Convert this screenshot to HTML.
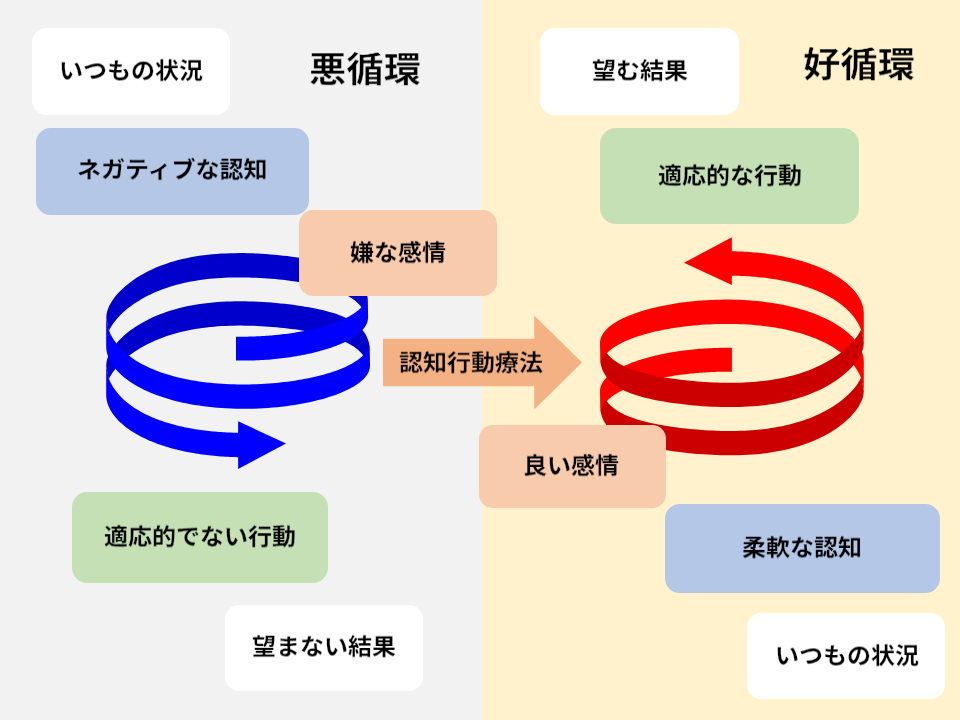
<!DOCTYPE html>
<html lang="ja">
<head>
<meta charset="utf-8">
<title>悪循環と好循環</title>
<style>
html,body{margin:0;padding:0;}
body{width:960px;height:720px;overflow:hidden;position:relative;background:#F2F2F2;
 font-family:"Liberation Sans","Noto Sans CJK JP",sans-serif;color:#000;}
.bgR{position:absolute;left:482px;top:0;width:478px;height:720px;background:#FFF2CC;}
.box{position:absolute;display:flex;align-items:center;justify-content:center;
 font-size:24px;font-weight:700;line-height:1;white-space:nowrap;}
.box span{display:block;position:relative;top:-1px;}
.box span,.title,.arrowtxt span{will-change:transform;transform:scaleY(0.943);transform-origin:50% 50%;}
.arrowtxt span{-webkit-text-stroke:0.3px #F4B183;}
.title.l{-webkit-text-stroke:0.45px #F2F2F2;}
.title.r{-webkit-text-stroke:0.45px #FFF2CC;}
.title{position:absolute;font-size:37.33px;font-weight:700;line-height:1;white-space:nowrap;}
svg{position:absolute;left:0;top:0;}
.arrowtxt{position:absolute;left:383px;top:339px;width:176px;height:47px;display:flex;align-items:center;
 justify-content:center;font-size:24px;font-weight:700;line-height:1;white-space:nowrap;}
</style>
</head>
<body>
<div class="bgR"></div>
<div class="box" style="left:32px;top:28px;width:198px;height:87px;border-radius:14.5px;background:#FFFFFF"><span style="left:0px;top:-1px;-webkit-text-stroke:0.22px #FFFFFF">いつもの状況</span></div><div class="box" style="left:36px;top:128px;width:273px;height:87px;border-radius:14.5px;background:#B4C7E7"><span style="left:0px;top:-1.5px;-webkit-text-stroke:0.22px #B4C7E7">ネガティブな認知</span></div><div class="box" style="left:72px;top:492px;width:256px;height:91px;border-radius:15.17px;background:#C5E0B4"><span style="left:0px;top:-1px;-webkit-text-stroke:0.22px #C5E0B4">適応的でない行動</span></div><div class="box" style="left:225px;top:605px;width:198px;height:86px;border-radius:14.33px;background:#FFFFFF"><span style="left:0px;top:-1px;-webkit-text-stroke:0.22px #FFFFFF">望まない結果</span></div><div class="box" style="left:540px;top:28px;width:199px;height:87px;border-radius:14.5px;background:#FFFFFF"><span style="left:0px;top:-1px;-webkit-text-stroke:0.22px #FFFFFF">望む結果</span></div><div class="box" style="left:600px;top:128px;width:259px;height:96px;border-radius:16.0px;background:#C5E0B4"><span style="left:0px;top:-0.5px;-webkit-text-stroke:0.22px #C5E0B4">適応的な行動</span></div><div class="box" style="left:664.5px;top:504px;width:275.5px;height:89px;border-radius:14.83px;background:#B4C7E7"><span style="left:0px;top:-1px;-webkit-text-stroke:0.22px #B4C7E7">柔軟な認知</span></div><div class="box" style="left:747px;top:613px;width:198px;height:86px;border-radius:14.33px;background:#FFFFFF"><span style="left:0.5px;top:0px;-webkit-text-stroke:0.22px #FFFFFF">いつもの状況</span></div>
<div class="title l" style="left:309px;top:52.4px;">悪循環</div>
<div class="title r" style="left:803px;top:47.4px;">好循環</div>
<svg width="960" height="720" viewBox="0 0 960 720">
<path d="M106.30,317.76 L106.38,315.93 L106.61,314.06 L107.00,312.16 L107.54,310.23 L108.24,308.27 L109.09,306.29 L110.09,304.28 L111.25,302.26 L112.55,300.21 L114.00,298.16 L115.60,296.10 L117.34,294.04 L119.23,291.98 L121.25,289.93 L123.41,287.90 L125.71,285.88 L128.14,283.88 L130.70,281.92 L133.39,279.99 L136.20,278.10 L139.13,276.25 L142.18,274.46 L145.33,272.71 L148.60,271.03 L151.98,269.41 L155.45,267.86 L159.02,266.37 L162.69,264.96 L166.44,263.63 L170.28,262.37 L174.20,261.19 L178.19,260.10 L182.25,259.08 L186.38,258.15 L190.57,257.30 L194.81,256.53 L199.10,255.85 L203.44,255.25 L207.82,254.72 L212.24,254.27 L216.68,253.90 L221.15,253.61 L225.64,253.38 L230.14,253.22 L234.65,253.13 L239.16,253.09 L243.67,253.12 L248.17,253.21 L252.66,253.35 L257.13,253.54 L261.58,253.78 L266.00,254.06 L270.38,254.39 L274.72,254.76 L279.02,255.18 L283.27,255.63 L287.47,256.11 L291.61,256.64 L295.68,257.20 L299.68,257.79 L303.61,258.43 L307.45,259.09 L311.22,259.80 L314.90,260.54 L318.48,261.33 L321.97,262.15 L325.36,263.02 L328.64,263.94 L331.81,264.91 L334.88,265.92 L337.82,266.99 L340.65,268.12 L343.35,269.31 L345.93,270.56 L348.37,271.88 L350.69,273.27 L352.87,274.73 L354.91,276.26 L356.82,277.87 L358.58,279.56 L360.20,281.33 L361.67,283.18 L362.99,285.11 L364.16,287.13 L365.19,289.23 L366.06,291.40 L366.77,293.66 L367.34,296.00 L367.75,298.41 L362.54,308.72 L361.36,307.07 L360.06,305.48 L358.66,303.95 L357.15,302.48 L355.54,301.07 L353.82,299.72 L351.99,298.42 L350.07,297.18 L348.04,295.99 L345.91,294.86 L343.69,293.77 L341.38,292.73 L338.97,291.74 L336.47,290.79 L333.88,289.88 L331.20,289.01 L328.45,288.18 L325.61,287.39 L322.69,286.63 L319.70,285.91 L316.63,285.22 L313.49,284.55 L310.29,283.92 L307.02,283.32 L303.69,282.74 L300.30,282.19 L296.85,281.67 L293.35,281.17 L289.80,280.70 L286.20,280.26 L282.56,279.85 L278.88,279.46 L275.16,279.10 L271.41,278.78 L267.63,278.48 L263.82,278.22 L259.99,277.99 L256.13,277.79 L252.26,277.63 L248.38,277.51 L244.49,277.43 L240.59,277.40 L236.68,277.40 L232.78,277.46 L228.88,277.56 L224.99,277.71 L221.11,277.91 L217.25,278.16 L213.40,278.47 L209.57,278.84 L205.77,279.26 L201.99,279.74 L198.25,280.28 L194.54,280.88 L190.87,281.54 L187.24,282.27 L183.66,283.05 L180.12,283.90 L176.63,284.81 L173.20,285.78 L169.83,286.81 L166.51,287.90 L163.26,289.05 L160.07,290.26 L156.95,291.52 L153.90,292.83 L150.93,294.20 L148.03,295.62 L145.22,297.08 L142.48,298.58 L139.83,300.13 L137.26,301.71 L134.79,303.33 L132.40,304.98 L130.11,306.66 L127.91,308.37 L125.81,310.09 L123.81,311.84 L121.91,313.59 L120.12,315.36 L118.42,317.14 L116.84,318.92 L115.36,320.70 L113.98,322.49 L112.72,324.26 L111.57,326.03 L110.53,327.79 L109.60,329.53 L108.79,331.26Z" fill="#0000CC"/>
<path d="M106.20,365.96 L106.28,364.13 L106.51,362.26 L106.90,360.36 L107.45,358.43 L108.15,356.47 L109.01,354.49 L110.02,352.48 L111.18,350.46 L112.50,348.41 L113.96,346.36 L115.57,344.30 L117.33,342.24 L119.22,340.18 L121.27,338.13 L123.44,336.10 L125.76,334.08 L128.21,332.08 L130.79,330.12 L133.50,328.19 L136.33,326.30 L139.28,324.45 L142.35,322.66 L145.53,320.91 L148.83,319.23 L152.23,317.61 L155.73,316.06 L159.33,314.57 L163.02,313.16 L166.80,311.83 L170.67,310.57 L174.62,309.39 L178.64,308.30 L182.73,307.28 L186.89,306.35 L191.11,305.50 L195.39,304.73 L199.71,304.05 L204.09,303.45 L208.50,302.92 L212.95,302.47 L217.42,302.10 L221.93,301.81 L226.45,301.58 L230.98,301.42 L235.53,301.33 L240.07,301.29 L244.62,301.32 L249.15,301.41 L253.68,301.55 L258.18,301.74 L262.66,301.98 L267.12,302.26 L271.53,302.59 L275.91,302.96 L280.24,303.38 L284.53,303.83 L288.75,304.31 L292.92,304.84 L297.02,305.40 L301.06,305.99 L305.01,306.63 L308.89,307.29 L312.69,308.00 L316.39,308.74 L320.00,309.53 L323.52,310.35 L326.93,311.22 L330.24,312.14 L333.44,313.11 L336.52,314.12 L339.49,315.19 L342.34,316.32 L345.06,317.51 L347.66,318.76 L350.12,320.08 L352.46,321.47 L354.65,322.93 L356.71,324.46 L358.63,326.07 L360.41,327.76 L362.04,329.53 L363.52,331.38 L364.85,333.31 L366.03,335.33 L367.06,337.43 L367.94,339.60 L368.66,341.86 L369.23,344.20 L369.64,346.61 L364.39,356.92 L363.20,355.27 L361.90,353.68 L360.49,352.15 L358.97,350.68 L357.34,349.27 L355.61,347.92 L353.77,346.62 L351.83,345.38 L349.79,344.19 L347.64,343.06 L345.41,341.97 L343.07,340.93 L340.64,339.94 L338.12,338.99 L335.52,338.08 L332.82,337.21 L330.04,336.38 L327.18,335.59 L324.24,334.83 L321.23,334.11 L318.14,333.42 L314.98,332.75 L311.75,332.12 L308.45,331.52 L305.09,330.94 L301.68,330.39 L298.20,329.87 L294.68,329.37 L291.10,328.90 L287.48,328.46 L283.81,328.05 L280.10,327.66 L276.35,327.30 L272.57,326.98 L268.76,326.68 L264.92,326.42 L261.06,326.19 L257.18,325.99 L253.28,325.83 L249.36,325.71 L245.44,325.63 L241.51,325.60 L237.58,325.60 L233.65,325.66 L229.72,325.76 L225.80,325.91 L221.89,326.11 L217.99,326.36 L214.12,326.67 L210.26,327.04 L206.43,327.46 L202.63,327.94 L198.85,328.48 L195.12,329.08 L191.42,329.74 L187.76,330.47 L184.15,331.25 L180.58,332.10 L177.07,333.01 L173.61,333.98 L170.21,335.01 L166.87,336.10 L163.59,337.25 L160.38,338.46 L157.24,339.72 L154.17,341.03 L151.17,342.40 L148.25,343.82 L145.41,345.28 L142.66,346.78 L139.98,348.33 L137.40,349.91 L134.90,351.53 L132.50,353.18 L130.19,354.86 L127.98,356.57 L125.86,358.29 L123.85,360.04 L121.93,361.79 L120.12,363.56 L118.42,365.34 L116.82,367.12 L115.33,368.90 L113.94,370.69 L112.67,372.46 L111.51,374.23 L110.46,375.99 L109.53,377.73 L108.71,379.46Z" fill="#0000CC"/>
<path d="M236.00,360.54 L238.32,360.58 L240.65,360.60 L242.97,360.61 L245.29,360.60 L247.61,360.57 L249.92,360.53 L252.23,360.47 L254.54,360.40 L256.84,360.31 L259.13,360.20 L261.42,360.08 L263.70,359.95 L265.97,359.79 L268.23,359.63 L270.49,359.45 L272.73,359.25 L274.96,359.04 L277.18,358.81 L279.39,358.58 L281.58,358.32 L283.76,358.05 L285.92,357.77 L288.07,357.48 L290.20,357.17 L292.32,356.85 L294.42,356.52 L296.50,356.17 L298.56,355.81 L300.61,355.44 L302.63,355.06 L304.63,354.66 L306.61,354.25 L308.57,353.83 L310.51,353.40 L312.42,352.96 L314.31,352.51 L316.18,352.04 L318.02,351.57 L319.83,351.08 L321.62,350.59 L323.38,350.08 L325.12,349.57 L326.83,349.04 L328.51,348.51 L330.16,347.96 L331.78,347.41 L333.37,346.85 L334.93,346.28 L336.46,345.70 L337.96,345.11 L339.43,344.51 L340.86,343.90 L342.27,343.29 L343.64,342.67 L344.97,342.04 L346.27,341.40 L347.54,340.76 L348.77,340.11 L349.97,339.45 L351.13,338.78 L352.26,338.11 L353.35,337.43 L354.40,336.75 L355.42,336.05 L356.40,335.36 L357.34,334.65 L358.24,333.94 L359.11,333.23 L359.94,332.51 L360.72,331.78 L361.47,331.05 L362.18,330.31 L362.86,329.57 L363.49,328.82 L364.08,328.07 L364.63,327.31 L365.14,326.55 L365.61,325.79 L366.04,325.02 L366.43,324.24 L366.78,323.46 L367.09,322.68 L367.36,321.90 L367.58,321.11 L367.77,320.31 L367.91,319.52 L368.02,318.72 L368.08,317.92 L368.10,317.11 L367.80,298.45 L362.54,306.00 L361.98,306.64 L361.39,307.28 L360.78,307.91 L360.14,308.54 L359.48,309.16 L358.79,309.77 L358.08,310.38 L357.34,310.98 L356.57,311.58 L355.79,312.17 L354.97,312.75 L354.13,313.33 L353.27,313.90 L352.38,314.47 L351.47,315.03 L350.53,315.58 L349.58,316.13 L348.59,316.67 L347.59,317.21 L346.56,317.74 L345.51,318.26 L344.43,318.78 L343.33,319.29 L342.21,319.79 L341.07,320.29 L339.91,320.78 L338.73,321.27 L337.52,321.75 L336.29,322.22 L335.05,322.69 L333.78,323.15 L332.49,323.60 L331.18,324.04 L329.85,324.48 L328.51,324.92 L327.14,325.34 L325.75,325.76 L324.35,326.18 L322.93,326.58 L321.49,326.98 L320.03,327.37 L318.56,327.76 L317.07,328.13 L315.56,328.50 L314.03,328.87 L312.49,329.22 L310.93,329.57 L309.36,329.91 L307.77,330.25 L306.17,330.57 L304.56,330.89 L302.93,331.20 L301.28,331.51 L299.62,331.80 L297.95,332.09 L296.27,332.37 L294.57,332.64 L292.87,332.90 L291.15,333.16 L289.42,333.41 L287.67,333.65 L285.92,333.88 L284.16,334.10 L282.39,334.31 L280.61,334.52 L278.81,334.72 L277.01,334.90 L275.21,335.08 L273.39,335.25 L271.57,335.41 L269.74,335.56 L267.90,335.71 L266.06,335.84 L264.21,335.96 L262.35,336.08 L260.49,336.18 L258.62,336.28 L256.75,336.36 L254.88,336.44 L253.00,336.50 L251.12,336.56 L249.24,336.60 L247.35,336.64 L245.46,336.66 L243.57,336.68 L241.68,336.68 L239.79,336.68 L237.89,336.66 L236.00,336.63Z" fill="#0000FF"/>
<path d="M106.20,346.33 L106.28,348.45 L106.53,350.58 L106.94,352.71 L107.51,354.85 L108.25,356.98 L109.15,359.11 L110.21,361.23 L111.42,363.34 L112.80,365.43 L114.33,367.50 L116.02,369.55 L117.86,371.57 L119.85,373.57 L121.98,375.53 L124.26,377.46 L126.68,379.34 L129.24,381.19 L131.94,382.99 L134.77,384.75 L137.73,386.45 L140.81,388.11 L144.01,389.71 L147.33,391.26 L150.77,392.75 L154.31,394.18 L157.96,395.55 L161.71,396.85 L165.55,398.10 L169.48,399.27 L173.50,400.39 L177.60,401.43 L181.77,402.41 L186.02,403.31 L190.32,404.15 L194.69,404.92 L199.12,405.62 L203.59,406.25 L208.10,406.81 L212.65,407.30 L217.24,407.72 L221.85,408.07 L226.48,408.35 L231.12,408.57 L235.77,408.71 L240.43,408.79 L245.08,408.81 L249.72,408.75 L254.35,408.64 L258.96,408.46 L263.55,408.22 L268.10,407.92 L272.61,407.56 L277.08,407.15 L281.51,406.67 L285.88,406.15 L290.18,405.56 L294.43,404.93 L298.60,404.24 L302.70,403.51 L306.72,402.72 L310.65,401.89 L314.49,401.02 L318.24,400.10 L321.89,399.14 L325.43,398.14 L328.87,397.10 L332.19,396.02 L335.39,394.91 L338.47,393.76 L341.43,392.58 L344.26,391.36 L346.96,390.11 L349.52,388.84 L351.94,387.53 L354.22,386.20 L356.35,384.84 L358.34,383.46 L360.18,382.05 L361.87,380.62 L363.40,379.17 L364.78,377.70 L365.99,376.21 L367.05,374.70 L367.95,373.17 L368.69,371.63 L369.26,370.07 L369.67,368.49 L369.92,366.91 L370.00,365.31 L369.70,346.25 L364.39,353.80 L363.20,355.12 L361.90,356.41 L360.49,357.68 L358.97,358.93 L357.34,360.15 L355.61,361.34 L353.77,362.51 L351.83,363.65 L349.79,364.77 L347.64,365.86 L345.41,366.92 L343.07,367.96 L340.64,368.97 L338.12,369.95 L335.52,370.91 L332.82,371.84 L330.04,372.74 L327.18,373.61 L324.24,374.45 L321.23,375.26 L318.14,376.04 L314.98,376.79 L311.75,377.51 L308.45,378.20 L305.09,378.86 L301.68,379.48 L298.20,380.07 L294.68,380.63 L291.10,381.15 L287.48,381.64 L283.81,382.09 L280.10,382.51 L276.35,382.89 L272.57,383.23 L268.76,383.53 L264.92,383.79 L261.06,384.01 L257.18,384.19 L253.28,384.33 L249.36,384.42 L245.44,384.47 L241.51,384.48 L237.58,384.44 L233.65,384.36 L229.72,384.23 L225.80,384.05 L221.89,383.83 L217.99,383.55 L214.12,383.23 L210.26,382.85 L206.43,382.43 L202.63,381.95 L198.85,381.43 L195.12,380.85 L191.42,380.22 L187.76,379.53 L184.15,378.80 L180.58,378.01 L177.07,377.17 L173.61,376.27 L170.21,375.32 L166.87,374.32 L163.59,373.26 L160.38,372.15 L157.24,370.99 L154.17,369.78 L151.17,368.51 L148.25,367.20 L145.41,365.83 L142.66,364.41 L139.98,362.95 L137.40,361.44 L134.90,359.88 L132.50,358.27 L130.19,356.62 L127.98,354.93 L125.86,353.19 L123.85,351.42 L121.93,349.60 L120.12,347.75 L118.42,345.87 L116.82,343.95 L115.33,342.00 L113.94,340.02 L112.67,338.01 L111.51,335.98 L110.46,333.93 L109.53,331.85 L108.71,329.76 L106.20,318.30Z" fill="#0000FF"/>
<path d="M106.20,394.73 L106.22,395.80 L106.28,396.86 L106.39,397.93 L106.53,399.01 L106.72,400.08 L106.95,401.15 L107.22,402.23 L107.53,403.30 L107.88,404.38 L108.27,405.45 L108.71,406.52 L109.18,407.59 L109.70,408.66 L110.26,409.73 L110.85,410.79 L111.49,411.85 L112.17,412.90 L112.88,413.95 L113.64,414.99 L114.43,416.03 L115.27,417.07 L116.14,418.09 L117.05,419.11 L118.00,420.13 L118.99,421.13 L120.01,422.13 L121.08,423.12 L122.18,424.10 L123.31,425.07 L124.48,426.03 L125.69,426.99 L126.93,427.93 L128.21,428.86 L129.53,429.78 L130.87,430.69 L132.25,431.59 L133.67,432.48 L135.12,433.35 L136.60,434.22 L138.11,435.07 L139.65,435.90 L141.22,436.72 L142.83,437.53 L144.46,438.33 L146.13,439.11 L147.82,439.88 L149.54,440.63 L151.29,441.37 L153.07,442.09 L154.88,442.80 L156.71,443.49 L158.56,444.17 L160.44,444.83 L162.35,445.47 L164.28,446.10 L166.23,446.71 L168.21,447.30 L170.21,447.88 L172.22,448.44 L174.26,448.99 L176.32,449.52 L178.40,450.03 L180.50,450.52 L182.62,450.99 L184.75,451.45 L186.90,451.89 L189.07,452.32 L191.25,452.72 L193.45,453.11 L195.66,453.48 L197.88,453.83 L200.12,454.17 L202.37,454.49 L204.63,454.79 L206.90,455.07 L209.18,455.33 L211.47,455.58 L213.77,455.81 L216.08,456.02 L218.39,456.21 L220.71,456.39 L223.04,456.55 L225.36,456.69 L227.70,456.81 L230.03,456.92 L232.37,457.01 L234.72,457.08 L237.06,457.14 L239.40,457.18 L239.40,432.77 L237.35,432.74 L235.29,432.70 L233.24,432.65 L231.19,432.58 L229.14,432.51 L227.09,432.41 L225.05,432.31 L223.01,432.19 L220.97,432.07 L218.94,431.92 L216.91,431.77 L214.88,431.60 L212.86,431.41 L210.85,431.21 L208.85,431.00 L206.85,430.78 L204.86,430.54 L202.88,430.29 L200.90,430.02 L198.94,429.74 L196.98,429.45 L195.03,429.14 L193.10,428.81 L191.17,428.47 L189.26,428.12 L187.36,427.76 L185.47,427.38 L183.59,426.98 L181.73,426.57 L179.88,426.15 L178.05,425.71 L176.23,425.25 L174.42,424.79 L172.63,424.30 L170.86,423.81 L169.10,423.29 L167.36,422.77 L165.63,422.23 L163.93,421.67 L162.24,421.10 L160.57,420.52 L158.91,419.92 L157.28,419.31 L155.67,418.68 L154.08,418.04 L152.50,417.39 L150.95,416.72 L149.42,416.03 L147.91,415.34 L146.43,414.63 L144.96,413.90 L143.52,413.17 L142.10,412.42 L140.70,411.65 L139.33,410.87 L137.98,410.08 L136.66,409.28 L135.36,408.47 L134.08,407.64 L132.83,406.80 L131.61,405.94 L130.41,405.08 L129.24,404.20 L128.09,403.32 L126.97,402.42 L125.88,401.51 L124.81,400.58 L123.78,399.65 L122.77,398.71 L121.78,397.76 L120.83,396.79 L119.90,395.82 L119.01,394.84 L118.14,393.85 L117.30,392.85 L116.49,391.84 L115.71,390.82 L114.96,389.79 L114.24,388.76 L113.55,387.72 L112.89,386.67 L112.26,385.61 L111.66,384.55 L111.09,383.48 L110.55,382.41 L110.04,381.33 L109.57,380.24 L109.12,379.15 L108.71,378.06 L106.20,366.60Z" fill="#0000FF"/>
<path d="M238.10,421.25 L286.00,443.60 L238.10,469.00Z" fill="#0000FF"/>
<path d="M731.90,347.84 L729.57,347.81 L727.25,347.79 L724.92,347.79 L722.60,347.81 L720.28,347.85 L717.96,347.89 L715.65,347.96 L713.34,348.04 L711.04,348.14 L708.74,348.25 L706.45,348.38 L704.17,348.52 L701.90,348.68 L699.64,348.85 L697.39,349.04 L695.15,349.24 L692.92,349.45 L690.70,349.68 L688.49,349.93 L686.30,350.18 L684.12,350.45 L681.96,350.74 L679.82,351.04 L677.68,351.35 L675.57,351.67 L673.48,352.01 L671.40,352.36 L669.34,352.72 L667.30,353.09 L665.28,353.48 L663.28,353.88 L661.30,354.28 L659.35,354.71 L657.42,355.14 L655.51,355.58 L653.62,356.03 L651.76,356.50 L649.92,356.97 L648.11,357.46 L646.33,357.95 L644.57,358.46 L642.84,358.97 L641.13,359.50 L639.46,360.03 L637.81,360.58 L636.20,361.13 L634.61,361.69 L633.05,362.26 L631.53,362.84 L630.03,363.43 L628.57,364.02 L627.14,364.63 L625.74,365.24 L624.38,365.86 L623.04,366.49 L621.75,367.12 L620.48,367.76 L619.25,368.41 L618.06,369.07 L616.90,369.73 L615.78,370.40 L614.69,371.08 L613.65,371.76 L612.63,372.45 L611.66,373.14 L610.72,373.84 L609.82,374.55 L608.96,375.26 L608.13,375.98 L607.35,376.70 L606.60,377.43 L605.89,378.16 L605.22,378.90 L604.60,379.64 L604.01,380.39 L603.46,381.15 L602.95,381.90 L602.48,382.66 L602.05,383.43 L601.66,384.20 L601.31,384.97 L601.01,385.75 L600.74,386.53 L600.51,387.32 L600.33,388.11 L600.18,388.90 L600.08,389.69 L600.02,390.49 L600.00,391.29 L600.30,409.95 L605.61,402.40 L606.17,401.76 L606.75,401.13 L607.36,400.50 L608.00,399.88 L608.66,399.27 L609.35,398.66 L610.06,398.05 L610.80,397.45 L611.56,396.86 L612.35,396.28 L613.16,395.70 L614.00,395.12 L614.86,394.55 L615.75,393.99 L616.66,393.43 L617.59,392.88 L618.55,392.34 L619.53,391.80 L620.53,391.26 L621.56,390.74 L622.61,390.22 L623.68,389.70 L624.77,389.19 L625.89,388.69 L627.03,388.20 L628.19,387.71 L629.37,387.22 L630.57,386.75 L631.79,386.28 L633.04,385.81 L634.30,385.36 L635.59,384.90 L636.89,384.46 L638.21,384.02 L639.56,383.59 L640.92,383.17 L642.30,382.75 L643.70,382.34 L645.12,381.93 L646.55,381.53 L648.00,381.14 L649.48,380.76 L650.96,380.38 L652.47,380.01 L653.99,379.65 L655.52,379.29 L657.08,378.94 L658.64,378.60 L660.23,378.27 L661.82,377.94 L663.44,377.62 L665.06,377.31 L666.70,377.01 L668.36,376.71 L670.02,376.42 L671.70,376.14 L673.39,375.87 L675.10,375.60 L676.81,375.35 L678.54,375.10 L680.28,374.86 L682.03,374.62 L683.78,374.40 L685.55,374.18 L687.33,373.98 L689.12,373.78 L690.91,373.59 L692.72,373.40 L694.53,373.23 L696.35,373.07 L698.18,372.91 L700.02,372.77 L701.86,372.63 L703.70,372.50 L705.56,372.38 L707.42,372.27 L709.28,372.17 L711.15,372.08 L713.02,372.00 L714.90,371.93 L716.78,371.87 L718.66,371.82 L720.55,371.78 L722.44,371.75 L724.33,371.73 L726.22,371.72 L728.11,371.72 L730.01,371.73 L731.90,371.75Z" fill="#FF0000"/>
<path d="M863.80,362.07 L863.72,359.95 L863.47,357.82 L863.06,355.69 L862.49,353.55 L861.75,351.42 L860.85,349.29 L859.79,347.17 L858.58,345.06 L857.20,342.97 L855.67,340.90 L853.98,338.85 L852.14,336.83 L850.15,334.83 L848.02,332.87 L845.74,330.94 L843.32,329.06 L840.76,327.21 L838.06,325.41 L835.23,323.65 L832.27,321.95 L829.19,320.29 L825.99,318.69 L822.67,317.14 L819.23,315.65 L815.69,314.22 L812.04,312.85 L808.29,311.55 L804.45,310.30 L800.52,309.13 L796.50,308.01 L792.40,306.97 L788.23,305.99 L783.98,305.09 L779.68,304.25 L775.31,303.48 L770.88,302.78 L766.41,302.15 L761.90,301.59 L757.35,301.10 L752.76,300.68 L748.15,300.33 L743.52,300.05 L738.88,299.83 L734.23,299.69 L729.57,299.61 L724.92,299.59 L720.28,299.65 L715.65,299.76 L711.04,299.94 L706.45,300.18 L701.90,300.48 L697.39,300.84 L692.92,301.25 L688.49,301.73 L684.12,302.25 L679.82,302.84 L675.57,303.47 L671.40,304.16 L667.30,304.89 L663.28,305.68 L659.35,306.51 L655.51,307.38 L651.76,308.30 L648.11,309.26 L644.57,310.26 L641.13,311.30 L637.81,312.38 L634.61,313.49 L631.53,314.64 L628.57,315.82 L625.74,317.04 L623.04,318.29 L620.48,319.56 L618.06,320.87 L615.78,322.20 L613.65,323.56 L611.66,324.94 L609.82,326.35 L608.13,327.78 L606.60,329.23 L605.22,330.70 L604.01,332.19 L602.95,333.70 L602.05,335.23 L601.31,336.77 L600.74,338.33 L600.33,339.91 L600.08,341.49 L600.00,343.09 L600.30,362.15 L605.61,354.60 L606.80,353.28 L608.10,351.99 L609.51,350.72 L611.03,349.47 L612.66,348.25 L614.39,347.06 L616.23,345.89 L618.17,344.75 L620.21,343.63 L622.36,342.54 L624.59,341.48 L626.93,340.44 L629.36,339.43 L631.88,338.45 L634.48,337.49 L637.18,336.56 L639.96,335.66 L642.82,334.79 L645.76,333.95 L648.77,333.14 L651.86,332.36 L655.02,331.61 L658.25,330.89 L661.55,330.20 L664.91,329.54 L668.32,328.92 L671.80,328.33 L675.32,327.77 L678.90,327.25 L682.52,326.76 L686.19,326.31 L689.90,325.89 L693.65,325.51 L697.43,325.17 L701.24,324.87 L705.08,324.61 L708.94,324.39 L712.82,324.21 L716.72,324.07 L720.64,323.98 L724.56,323.93 L728.49,323.92 L732.42,323.96 L736.35,324.04 L740.28,324.17 L744.20,324.35 L748.11,324.57 L752.01,324.85 L755.88,325.17 L759.74,325.55 L763.57,325.97 L767.37,326.45 L771.15,326.97 L774.88,327.55 L778.58,328.18 L782.24,328.87 L785.85,329.60 L789.42,330.39 L792.93,331.23 L796.39,332.13 L799.79,333.08 L803.13,334.08 L806.41,335.14 L809.62,336.25 L812.76,337.41 L815.83,338.62 L818.83,339.89 L821.75,341.20 L824.59,342.57 L827.34,343.99 L830.02,345.45 L832.60,346.96 L835.10,348.52 L837.50,350.13 L839.81,351.78 L842.02,353.47 L844.14,355.21 L846.15,356.98 L848.07,358.80 L849.88,360.65 L851.58,362.53 L853.18,364.45 L854.67,366.40 L856.06,368.38 L857.33,370.39 L858.49,372.42 L859.54,374.47 L860.47,376.55 L861.29,378.64 L863.80,390.10Z" fill="#FF0000"/>
<path d="M863.80,313.67 L863.78,312.60 L863.72,311.54 L863.61,310.47 L863.47,309.39 L863.28,308.32 L863.05,307.25 L862.78,306.17 L862.47,305.10 L862.12,304.02 L861.73,302.95 L861.29,301.88 L860.82,300.81 L860.30,299.74 L859.74,298.67 L859.15,297.61 L858.51,296.55 L857.83,295.50 L857.12,294.45 L856.36,293.41 L855.57,292.37 L854.73,291.33 L853.86,290.31 L852.95,289.29 L852.00,288.27 L851.01,287.27 L849.99,286.27 L848.92,285.28 L847.82,284.30 L846.69,283.33 L845.52,282.37 L844.31,281.41 L843.07,280.47 L841.79,279.54 L840.47,278.62 L839.13,277.71 L837.75,276.81 L836.33,275.92 L834.88,275.05 L833.40,274.18 L831.89,273.33 L830.35,272.50 L828.78,271.68 L827.17,270.87 L825.54,270.07 L823.87,269.29 L822.18,268.52 L820.46,267.77 L818.71,267.03 L816.93,266.31 L815.12,265.60 L813.29,264.91 L811.44,264.23 L809.56,263.57 L807.65,262.93 L805.72,262.30 L803.77,261.69 L801.79,261.10 L799.79,260.52 L797.78,259.96 L795.74,259.41 L793.68,258.88 L791.60,258.37 L789.50,257.88 L787.38,257.41 L785.25,256.95 L783.10,256.51 L780.93,256.08 L778.75,255.68 L776.55,255.29 L774.34,254.92 L772.12,254.57 L769.88,254.23 L767.63,253.91 L765.37,253.61 L763.10,253.33 L760.82,253.07 L758.53,252.82 L756.23,252.59 L753.92,252.38 L751.61,252.19 L749.29,252.01 L746.96,251.85 L744.64,251.71 L742.30,251.59 L739.97,251.48 L737.63,251.39 L735.28,251.32 L732.94,251.26 L730.60,251.22 L730.60,275.63 L732.65,275.66 L734.71,275.70 L736.76,275.75 L738.81,275.82 L740.86,275.89 L742.91,275.99 L744.95,276.09 L746.99,276.21 L749.03,276.33 L751.06,276.48 L753.09,276.63 L755.12,276.80 L757.14,276.99 L759.15,277.19 L761.15,277.40 L763.15,277.62 L765.14,277.86 L767.12,278.11 L769.10,278.38 L771.06,278.66 L773.02,278.95 L774.97,279.26 L776.90,279.59 L778.83,279.93 L780.74,280.28 L782.64,280.64 L784.53,281.02 L786.41,281.42 L788.27,281.83 L790.12,282.25 L791.95,282.69 L793.77,283.15 L795.58,283.61 L797.37,284.10 L799.14,284.59 L800.90,285.11 L802.64,285.63 L804.37,286.17 L806.07,286.73 L807.76,287.30 L809.43,287.88 L811.09,288.48 L812.72,289.09 L814.33,289.72 L815.92,290.36 L817.50,291.01 L819.05,291.68 L820.58,292.37 L822.09,293.06 L823.57,293.77 L825.04,294.50 L826.48,295.23 L827.90,295.98 L829.30,296.75 L830.67,297.53 L832.02,298.32 L833.34,299.12 L834.64,299.93 L835.92,300.76 L837.17,301.60 L838.39,302.46 L839.59,303.32 L840.76,304.20 L841.91,305.08 L843.03,305.98 L844.12,306.89 L845.19,307.82 L846.22,308.75 L847.23,309.69 L848.22,310.64 L849.17,311.61 L850.10,312.58 L850.99,313.56 L851.86,314.55 L852.70,315.55 L853.51,316.56 L854.29,317.58 L855.04,318.61 L855.76,319.64 L856.45,320.68 L857.11,321.73 L857.74,322.79 L858.34,323.85 L858.91,324.92 L859.45,325.99 L859.96,327.07 L860.43,328.16 L860.88,329.25 L861.29,330.34 L863.80,341.80Z" fill="#FF0000"/>
<path d="M731.90,285.05 L684.00,262.70 L731.90,237.30Z" fill="#FF0000"/>
<path d="M863.80,390.64 L863.72,392.47 L863.49,394.34 L863.10,396.24 L862.55,398.17 L861.85,400.13 L860.99,402.11 L859.98,404.12 L858.82,406.14 L857.50,408.19 L856.04,410.24 L854.43,412.30 L852.67,414.36 L850.78,416.42 L848.73,418.47 L846.56,420.50 L844.24,422.52 L841.79,424.52 L839.21,426.48 L836.50,428.41 L833.67,430.30 L830.72,432.15 L827.65,433.94 L824.47,435.69 L821.17,437.37 L817.77,438.99 L814.27,440.54 L810.67,442.03 L806.98,443.44 L803.20,444.77 L799.33,446.03 L795.38,447.21 L791.36,448.30 L787.27,449.32 L783.11,450.25 L778.89,451.10 L774.61,451.87 L770.29,452.55 L765.91,453.15 L761.50,453.68 L757.05,454.13 L752.58,454.50 L748.07,454.79 L743.55,455.02 L739.02,455.18 L734.47,455.27 L729.93,455.31 L725.38,455.28 L720.85,455.19 L716.32,455.05 L711.82,454.86 L707.34,454.62 L702.88,454.34 L698.47,454.01 L694.09,453.64 L689.76,453.22 L685.47,452.77 L681.25,452.29 L677.08,451.76 L672.98,451.20 L668.94,450.61 L664.99,449.97 L661.11,449.31 L657.31,448.60 L653.61,447.86 L650.00,447.07 L646.48,446.25 L643.07,445.38 L639.76,444.46 L636.56,443.49 L633.48,442.48 L630.51,441.41 L627.66,440.28 L624.94,439.09 L622.34,437.84 L619.88,436.52 L617.54,435.13 L615.35,433.67 L613.29,432.14 L611.37,430.53 L609.59,428.84 L607.96,427.07 L606.48,425.22 L605.15,423.29 L603.97,421.27 L602.94,419.17 L602.06,417.00 L601.34,414.74 L600.77,412.40 L600.36,409.99 L605.61,399.68 L606.80,401.33 L608.10,402.92 L609.51,404.45 L611.03,405.92 L612.66,407.33 L614.39,408.68 L616.23,409.98 L618.17,411.22 L620.21,412.41 L622.36,413.54 L624.59,414.63 L626.93,415.67 L629.36,416.66 L631.88,417.61 L634.48,418.52 L637.18,419.39 L639.96,420.22 L642.82,421.01 L645.76,421.77 L648.77,422.49 L651.86,423.18 L655.02,423.85 L658.25,424.48 L661.55,425.08 L664.91,425.66 L668.32,426.21 L671.80,426.73 L675.32,427.23 L678.90,427.70 L682.52,428.14 L686.19,428.55 L689.90,428.94 L693.65,429.30 L697.43,429.62 L701.24,429.92 L705.08,430.18 L708.94,430.41 L712.82,430.61 L716.72,430.77 L720.64,430.89 L724.56,430.97 L728.49,431.00 L732.42,431.00 L736.35,430.94 L740.28,430.84 L744.20,430.69 L748.11,430.49 L752.01,430.24 L755.88,429.93 L759.74,429.56 L763.57,429.14 L767.37,428.66 L771.15,428.12 L774.88,427.52 L778.58,426.86 L782.24,426.13 L785.85,425.35 L789.42,424.50 L792.93,423.59 L796.39,422.62 L799.79,421.59 L803.13,420.50 L806.41,419.35 L809.62,418.14 L812.76,416.88 L815.83,415.57 L818.83,414.20 L821.75,412.78 L824.59,411.32 L827.34,409.82 L830.02,408.27 L832.60,406.69 L835.10,405.07 L837.50,403.42 L839.81,401.74 L842.02,400.03 L844.14,398.31 L846.15,396.56 L848.07,394.81 L849.88,393.04 L851.58,391.26 L853.18,389.48 L854.67,387.70 L856.06,385.91 L857.33,384.14 L858.49,382.37 L859.54,380.61 L860.47,378.87 L861.29,377.14Z" fill="#CC0000"/>
<path d="M863.80,342.44 L863.72,344.27 L863.49,346.14 L863.10,348.04 L862.55,349.97 L861.85,351.93 L860.99,353.91 L859.98,355.92 L858.82,357.94 L857.50,359.99 L856.04,362.04 L854.43,364.10 L852.67,366.16 L850.78,368.22 L848.73,370.27 L846.56,372.30 L844.24,374.32 L841.79,376.32 L839.21,378.28 L836.50,380.21 L833.67,382.10 L830.72,383.95 L827.65,385.74 L824.47,387.49 L821.17,389.17 L817.77,390.79 L814.27,392.34 L810.67,393.83 L806.98,395.24 L803.20,396.57 L799.33,397.83 L795.38,399.01 L791.36,400.10 L787.27,401.12 L783.11,402.05 L778.89,402.90 L774.61,403.67 L770.29,404.35 L765.91,404.95 L761.50,405.48 L757.05,405.93 L752.58,406.30 L748.07,406.59 L743.55,406.82 L739.02,406.98 L734.47,407.07 L729.93,407.11 L725.38,407.08 L720.85,406.99 L716.32,406.85 L711.82,406.66 L707.34,406.42 L702.88,406.14 L698.47,405.81 L694.09,405.44 L689.76,405.02 L685.47,404.57 L681.25,404.09 L677.08,403.56 L672.98,403.00 L668.94,402.41 L664.99,401.77 L661.11,401.11 L657.31,400.40 L653.61,399.66 L650.00,398.87 L646.48,398.05 L643.07,397.18 L639.76,396.26 L636.56,395.29 L633.48,394.28 L630.51,393.21 L627.66,392.08 L624.94,390.89 L622.34,389.64 L619.88,388.32 L617.54,386.93 L615.35,385.47 L613.29,383.94 L611.37,382.33 L609.59,380.64 L607.96,378.87 L606.48,377.02 L605.15,375.09 L603.97,373.07 L602.94,370.97 L602.06,368.80 L601.34,366.54 L600.77,364.20 L600.36,361.79 L605.61,351.48 L606.80,353.13 L608.10,354.72 L609.51,356.25 L611.03,357.72 L612.66,359.13 L614.39,360.48 L616.23,361.78 L618.17,363.02 L620.21,364.21 L622.36,365.34 L624.59,366.43 L626.93,367.47 L629.36,368.46 L631.88,369.41 L634.48,370.32 L637.18,371.19 L639.96,372.02 L642.82,372.81 L645.76,373.57 L648.77,374.29 L651.86,374.98 L655.02,375.65 L658.25,376.28 L661.55,376.88 L664.91,377.46 L668.32,378.01 L671.80,378.53 L675.32,379.03 L678.90,379.50 L682.52,379.94 L686.19,380.35 L689.90,380.74 L693.65,381.10 L697.43,381.42 L701.24,381.72 L705.08,381.98 L708.94,382.21 L712.82,382.41 L716.72,382.57 L720.64,382.69 L724.56,382.77 L728.49,382.80 L732.42,382.80 L736.35,382.74 L740.28,382.64 L744.20,382.49 L748.11,382.29 L752.01,382.04 L755.88,381.73 L759.74,381.36 L763.57,380.94 L767.37,380.46 L771.15,379.92 L774.88,379.32 L778.58,378.66 L782.24,377.93 L785.85,377.15 L789.42,376.30 L792.93,375.39 L796.39,374.42 L799.79,373.39 L803.13,372.30 L806.41,371.15 L809.62,369.94 L812.76,368.68 L815.83,367.37 L818.83,366.00 L821.75,364.58 L824.59,363.12 L827.34,361.62 L830.02,360.07 L832.60,358.49 L835.10,356.87 L837.50,355.22 L839.81,353.54 L842.02,351.83 L844.14,350.11 L846.15,348.36 L848.07,346.61 L849.88,344.84 L851.58,343.06 L853.18,341.28 L854.67,339.50 L856.06,337.71 L857.33,335.94 L858.49,334.17 L859.54,332.41 L860.47,330.67 L861.29,328.94Z" fill="#CC0000"/>
<path d="M383,338.75 L534.25,338.75 L534.25,315.5 L582,362.5 L534.25,409.5 L534.25,386.25 L383,386.25Z" fill="#F4B183"/>
</svg>
<div class="box" style="left:299px;top:210px;width:198px;height:86px;border-radius:14.33px;background:#F8CBAD"><span style="left:0px;top:0px;-webkit-text-stroke:0.22px #F8CBAD">嫌な感情</span></div><div class="box" style="left:479px;top:425px;width:187px;height:83px;border-radius:13.83px;background:#F8CBAD"><span style="left:-1.2px;top:-1px;-webkit-text-stroke:0.22px #F8CBAD">良い感情</span></div>
<div class="arrowtxt"><span>認知行動療法</span></div>
</body>
</html>
